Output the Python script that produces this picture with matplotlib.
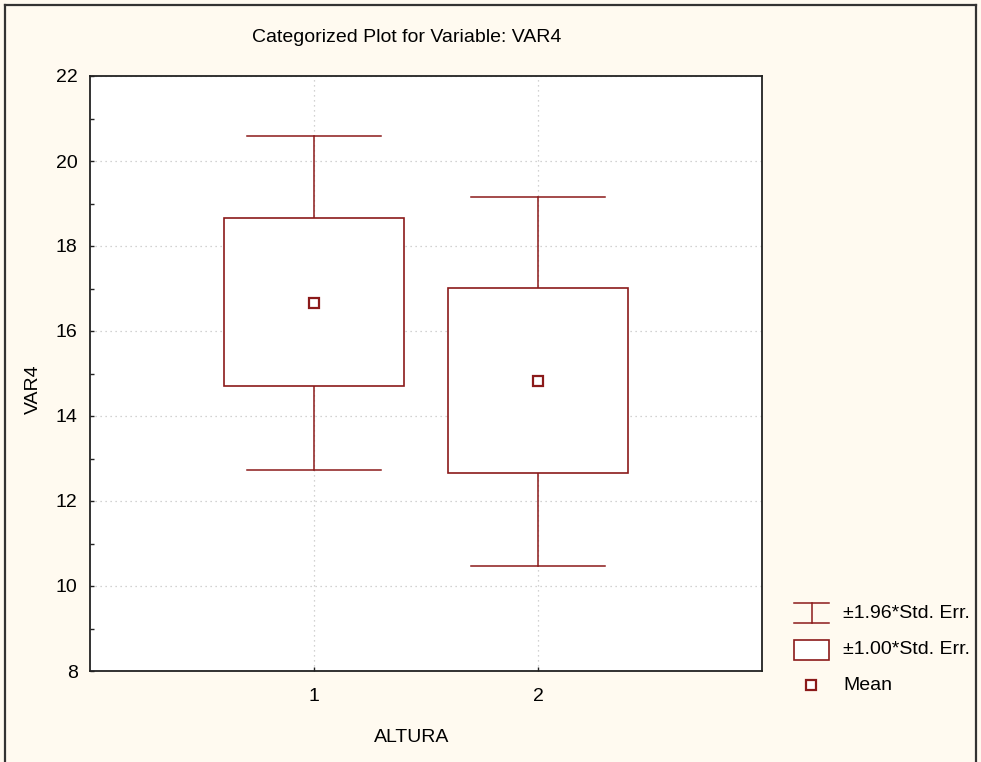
import matplotlib
matplotlib.use("Agg")
import matplotlib.pyplot as plt
from matplotlib.patches import Rectangle
from matplotlib.lines import Line2D
from matplotlib import font_manager

# ---- data ----
categories = ["1", "2"]
means = [16.67, 14.83]
box_low = [14.70, 12.65]      # mean - 1.00*SE
box_high = [18.66, 17.02]     # mean + 1.00*SE
whisk_low = [12.72, 10.47]    # mean - 1.96*SE
whisk_high = [20.59, 19.16]   # mean + 1.96*SE
yticks = [8, 10, 12, 14, 16, 18, 20, 22]
legend_labels = ["\u00b11.96*Std. Err.", "\u00b11.00*Std. Err.", "Mean"]

# ---- style ----
names = {f.name for f in font_manager.fontManager.ttflist}
fam = ["Liberation Sans Narrow"] if "Liberation Sans Narrow" in names else ["Liberation Sans"]
fam = fam + ["DejaVu Sans"]
plt.rcParams["font.family"] = fam
FS = 16.5 if "Liberation Sans Narrow" in names else 14
RED = "#8b1a1a"
BG = "#fffaf0"

W, H = 981, 762
fig = plt.figure(figsize=(W / 100, H / 100), dpi=100, facecolor=BG)

def fx(px):
    return px / W

def fy(py):
    return 1 - py / H

ax = fig.add_axes([fx(90), fy(671), fx(762) - fx(90), fy(76) - fy(671)])
ax.set_facecolor("white")
ax.set_xlim(0, 3)
ax.set_ylim(8, 22)

xs = [i + 1 for i in range(len(categories))]
box_half = 0.4
cap_half = 0.3
for x, m, bl, bh, wl, wh in zip(xs, means, box_low, box_high, whisk_low, whisk_high):
    ax.plot([x, x], [wl, wh], color=RED, lw=1.1, zorder=3)
    ax.plot([x - cap_half, x + cap_half], [wh, wh], color=RED, lw=1.1, zorder=3)
    ax.plot([x - cap_half, x + cap_half], [wl, wl], color=RED, lw=1.1, zorder=3)
    ax.add_patch(Rectangle((x - box_half, bl), 2 * box_half, bh - bl,
                           facecolor="white", edgecolor=RED, lw=1.2, zorder=4))
    ax.plot([x], [m], marker="s", ms=6.5, mfc="white", mec=RED, mew=1.6,
            ls="none", zorder=5)

ax.set_xticks(xs)
ax.set_xticklabels(categories, fontsize=FS)
ax.set_yticks(yticks)
ax.set_yticklabels([str(v) for v in yticks], fontsize=FS)
ax.set_yticks([v + 1 for v in yticks[:-1]], minor=True)
ax.tick_params(axis="both", which="major", direction="in", length=3, width=1,
               color="#222222", pad=9)
ax.tick_params(axis="x", which="major", pad=12)
ax.tick_params(axis="y", which="minor", direction="in", length=3, width=1, color="#222222")
ax.grid(True, which="major", ls=(0, (1, 3)), color="#c4c4c4", lw=0.9, zorder=0)
ax.set_axisbelow(True)
for s in ax.spines.values():
    s.set_color("#222222")
    s.set_linewidth(1.3)

# titles / labels
fig.text(fx(407), fy(37), "Categorized Plot for Variable: VAR4", ha="center", va="center",
         fontsize=FS)
fig.text(fx(33), fy(389), "VAR4", ha="center", va="center", rotation=90, fontsize=FS)
fig.text(fx(412), fy(738), "ALTURA", ha="center", va="center", fontsize=FS)

# legend (drawn manually)
rows = [613, 650, 685]
lx0, lx1 = 794, 829
lxm = (lx0 + lx1) / 2
# I-beam
r = rows[0]
for yy in (r - 10, r + 10):
    fig.add_artist(Line2D([fx(lx0), fx(lx1)], [fy(yy), fy(yy)], color=RED, lw=1.1))
fig.add_artist(Line2D([fx(lxm), fx(lxm)], [fy(r - 10), fy(r + 10)], color=RED, lw=1.1))
# box
r = rows[1]
fig.add_artist(Rectangle((fx(lx0), fy(r + 9.5)), fx(lx1) - fx(lx0), fy(r - 9.5) - fy(r + 9.5),
                         transform=fig.transFigure, facecolor="white", edgecolor=RED, lw=1.2))
# mean marker
r = rows[2]
fig.add_artist(Line2D([fx(811)], [fy(r)], marker="s", ms=6.5, mfc="white", mec=RED, mew=1.6,
                      ls="none"))
for r, lab in zip(rows, legend_labels):
    fig.text(fx(843), fy(r), lab, ha="left", va="center", fontsize=FS)

# outer frame
for (x0, y0, x1, y1) in [(5, 5, 976, 5), (5, 5, 5, 770), (976, 5, 976, 770)]:
    fig.add_artist(Line2D([fx(x0), fx(x1)], [fy(y0), fy(y1)], color="#333333", lw=1.6))

fig.savefig("out.png", dpi=100, facecolor=BG)
